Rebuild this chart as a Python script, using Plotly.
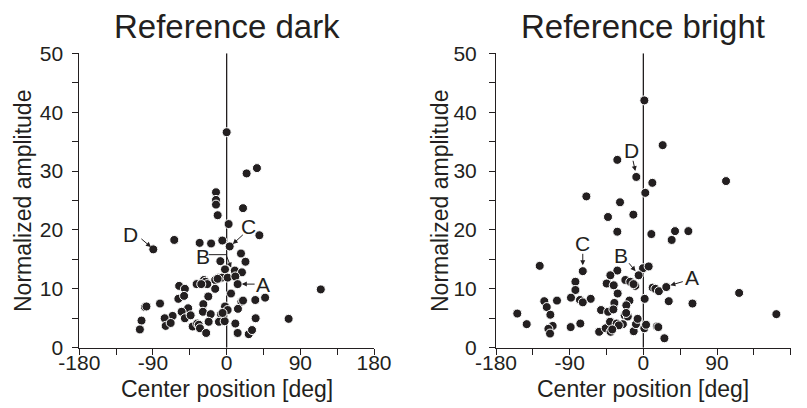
import plotly.graph_objects as go

# ---------------- data ----------------
dark_x = [0, 37, 24.4, -13, -13, -13, -11, 20, 2.4, 40, -64, -89.6, -33, -19, -5.3, 3.7, 17.5, 23,
          -7.7, -2, 10, 18.7, -9.4, -6, 1.2, 10.6, 13.4, -14, -11, -27.7, -26, -23.6, -36.7, -31,
          -58, -51, -14, 5.3, 35, 47, 115, -59, -52, -22.4, -28.5, 18, 20, -81.4, -99.8, -98,
          -47, -55, -29, -2, 1.2, 13.8, -19.5, -7, -51, -44, -66, -75.7, -74.5, -68.4, -104, -106,
          -41.5, -36, -34, -32.6, -25, -22, -9.4, -2.4, 10.6, 13.4, 27, 31, 35.4, 75.7, -5]
dark_y = [36.6, 30.5, 29.6, 26.4, 25.1, 24.3, 22.5, 23.7, 21.0, 19.1, 18.3, 16.7, 17.8, 17.7, 18.2, 17.2, 16.0, 14.6,
          14.7, 13.3, 13.1, 12.8, 11.9, 11.9, 11.9, 12.1, 10.8, 11.5, 11.7, 11.5, 11.2, 10.8, 10.8, 10.8,
          10.5, 10.0, 10.0, 9.2, 8.1, 8.5, 9.9, 8.3, 8.8, 8.7, 7.4, 7.8, 8.0, 7.5, 6.9, 7.0,
          6.7, 6.1, 6.1, 7.0, 6.4, 6.6, 5.7, 5.7, 5.0, 5.5, 5.4, 5.0, 3.7, 4.2, 4.6, 3.1,
          3.6, 4.1, 3.9, 3.3, 2.5, 4.4, 4.4, 4.5, 4.1, 2.5, 2.3, 3.0, 5.0, 4.9, 5.9]

bright_x = [1.2, 23.6, -31.8, -8.6, 11, 101, 2.4, -69.6, -28.5, -12.2, -43.2, -31.8, 9.8, 38.7, 55, 34.6,
            -74, -126.6, -0.4, 6.5, -5.7, -31.8, -40.3, -22, -16, -9.8, -12, -44.8, -36.2, -83, -83,
            -31.4, 11.4, 14.7, 19, 28, 117, 162.5, 60, 31, 1.6, -17, -20.8, -35.4, -64.3, -77.4, -74,
            -88.4, -105.5, -121, -118, -113.6, -110.8, -116, -114, -154, -142.5, -88.8, -77, -54, -46,
            -40, -51.7, -43, -36.6, -40.7, -32.6, -25, -22.8, -19, -11.8, -9, -7, 1.2, 3.3, 16.7, 18.3,
            25.7, -30, -38, -21]
bright_y = [42.0, 34.4, 31.9, 29.0, 28.0, 28.3, 26.3, 25.7, 24.7, 22.6, 22.2, 19.7, 19.3, 19.8, 19.8, 18.3,
            13.0, 13.9, 13.5, 13.8, 12.3, 13.1, 12.3, 11.5, 11.2, 10.5, 10.8, 10.9, 10.6, 11.2, 9.8,
            9.2, 10.2, 10.0, 9.6, 10.3, 9.3, 5.7, 7.5, 7.9, 8.3, 8.0, 7.2, 7.6, 8.3, 8.1, 7.7,
            8.5, 8.0, 7.9, 6.9, 5.6, 3.7, 3.2, 2.4, 5.8, 4.0, 3.5, 4.1, 2.7, 3.3,
            2.7, 6.4, 6.1, 6.5, 4.4, 4.1, 4.0, 5.5, 5.3, 2.8, 4.0, 4.9, 3.3, 3.9, 3.6, 3.5,
            1.6, 3.8, 3.1, 5.9]

x_tickvals = [-180, -135, -90, -45, 0, 45, 90, 135, 180]
x_ticktext = ["-180", "", "-90", "", "0", "", "90", "", "180"]
y_tickvals = [0, 5, 10, 15, 20, 25, 30, 35, 40, 45, 50]
y_ticktext = ["0", "", "10", "", "20", "", "30", "", "40", "", "50"]

titles = ["Reference dark", "Reference bright"]
x_title = "Center position [deg]"
y_title = "Normalized amplitude"

# ---------------- figure ----------------
INK = "#231f20"
FONT = "Liberation Sans, Arial, sans-serif"

fig = go.Figure()
marker = dict(size=9, color=INK, line=dict(color="white", width=1))
fig.add_trace(go.Scatter(x=dark_x, y=dark_y, mode="markers", marker=marker,
                         xaxis="x", yaxis="y", showlegend=False, hoverinfo="skip"))
fig.add_trace(go.Scatter(x=bright_x, y=bright_y, mode="markers", marker=marker,
                         xaxis="x2", yaxis="y2", showlegend=False, hoverinfo="skip"))

W, H = 807, 408
ydom = [1 - 347.7 / H, 1 - 53.3 / H]
xdom1 = [79.3 / W, 374.0 / W]
xdom2 = [496.0 / W, 790.7 / W]

def xaxis(dom, anchor):
    return dict(domain=dom, anchor=anchor, range=[-180, 180], tickmode="array",
                tickvals=x_tickvals, ticktext=x_ticktext, ticks="outside", ticklen=6,
                tickwidth=1, tickcolor=INK, showline=True, linecolor=INK, linewidth=1,
                showgrid=False, zeroline=False, automargin=False, ticklabelstandoff=-10,
                tickfont=dict(size=21, color=INK, family=FONT), fixedrange=True)

def yaxis(anchor, standoff):
    return dict(domain=ydom, anchor=anchor, range=[0, 50], tickmode="array",
                tickvals=y_tickvals, ticktext=y_ticktext, ticks="outside", ticklen=6,
                tickwidth=1, tickcolor=INK, showline=True, linecolor=INK, linewidth=1,
                showgrid=False, zeroline=False, automargin=False, ticklabelstandoff=standoff,
                tickfont=dict(size=21, color=INK, family=FONT), fixedrange=True)

fig.update_layout(
    template="none",
    width=W, height=H, margin=dict(l=0, r=0, t=0, b=0, autoexpand=False),
    paper_bgcolor="white", plot_bgcolor="white",
    xaxis=xaxis(xdom1, "y"), yaxis=yaxis("x", 5),
    xaxis2=xaxis(xdom2, "y2"), yaxis2=yaxis("x2", 8),
    font=dict(family=FONT, color=INK),
)

# vertical line at 0
for xr, yr in (("x", "y"), ("x2", "y2")):
    fig.add_shape(type="line", xref=xr, yref=yr, x0=0, x1=0, y0=0, y1=50,
                  line=dict(color=INK, width=1.3), layer="below")

# titles and axis titles
for dom, t, yx in zip((xdom1, xdom2), titles, (23, 440)):
    cx = (dom[0] + dom[1]) / 2
    fig.add_annotation(text=t, xref="paper", yref="paper", x=cx,
                       y=1 - 27 / H, xanchor="center", yanchor="middle", showarrow=False,
                       font=dict(size=33, color=INK, family=FONT))
    fig.add_annotation(text=x_title, xref="paper", yref="paper", x=cx,
                       y=1 - 389 / H, xanchor="center", yanchor="middle", showarrow=False,
                       font=dict(size=23, color=INK, family=FONT))
    fig.add_annotation(text=y_title, xref="paper", yref="paper", x=yx / W,
                       y=1 - 201 / H, xanchor="center", yanchor="middle", showarrow=False,
                       textangle=-90, font=dict(size=23, color=INK, family=FONT))

def label(xr, yr, x, y, t):
    fig.add_annotation(text=t, xref=xr, yref=yr, x=x, y=y, showarrow=False,
                       xanchor="center", yanchor="middle", font=dict(size=21, color=INK, family=FONT))

def arrow(xr, yr, x0, y0, x1, y1):
    fig.add_annotation(text="", xref=xr, yref=yr, axref=xr, ayref=yr, x=x1, y=y1, ax=x0, ay=y0,
                       showarrow=True, arrowhead=2, arrowsize=1, arrowwidth=1, arrowcolor=INK,
                       standoff=0, startstandoff=0)

# left panel labels
label("x", "y", -117, 19.3, "D"); arrow("x", "y", -106, 18.7, -92.5, 17.1)
label("x", "y", 26.5, 20.6, "C"); arrow("x", "y", 21.6, 19.4, 7.5, 17.6)
label("x", "y", 44.8, 10.8, "A"); arrow("x", "y", 36, 10.8, 18.5, 10.8)
label("x", "y", -29.5, 15.5, "B")
fig.add_shape(type="line", xref="x", yref="y", x0=-22, x1=-0.8, y0=15.8, y1=15.8,
              line=dict(color=INK, width=1))
arrow("x", "y", -0.8, 15.8, 5.5, 13.6)

# right panel labels
label("x2", "y2", -15, 33.5, "D"); arrow("x2", "y2", -13, 32, -9.8, 30.0)
label("x2", "y2", -74, 17.7, "C"); arrow("x2", "y2", -74, 16.2, -74, 14.0)
label("x2", "y2", -27.3, 15.6, "B"); arrow("x2", "y2", -19, 14.6, -9.5, 13.0)
label("x2", "y2", 59, 11.9, "A"); arrow("x2", "y2", 50, 11.3, 33, 10.6)

fig.write_html("out.html")
